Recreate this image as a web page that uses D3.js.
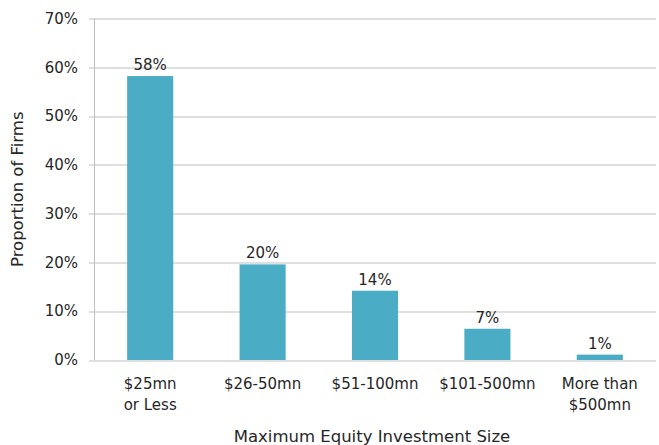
<!DOCTYPE html>
<html lang="en">
<head>
  <meta charset="utf-8">
  <script src="https://d3js.org/d3.v7.min.js"></script>
  <style>
    body { margin: 0; background: #fff; font-family: "DejaVu Sans", sans-serif; }
    .grid line { stroke: #bfbfbf; stroke-width: 1; }
    text { fill: #262626; }
  </style>
</head>
<body>
  <svg id="chart" width="659" height="445"></svg>
  <script>
    var categories = [["$25mn", "or Less"], ["$26-50mn"], ["$51-100mn"], ["$101-500mn"], ["More than", "$500mn"]];
    var values = [58.2, 19.6, 14.2, 6.4, 1.1];
    var valueLabels = ["58%", "20%", "14%", "7%", "1%"];
    var yTicks = [0, 10, 20, 30, 40, 50, 60, 70];

    var svg = d3.select("#chart");
    var margin = { left: 94, right: 3, top: 18.5, bottom: 85 };
    var width = 659 - margin.left - margin.right,
        height = 445 - margin.top - margin.bottom;

    var g = svg.append("g").attr("transform", "translate(" + margin.left + "," + margin.top + ")");

    var x = d3.scaleBand().domain(d3.range(categories.length)).range([0, width]).paddingInner(0.59).paddingOuter(0.295);
    var y = d3.scaleLinear().domain([0, 70]).range([height, 0]);

    // gridlines
    g.append("g").attr("class", "grid")
      .selectAll("line").data(yTicks).enter().append("line")
        .attr("x1", -5).attr("x2", width)
        .attr("y1", function(d) { return Math.round(y(d)) + 0.5; })
        .attr("y2", function(d) { return Math.round(y(d)) + 0.5; });

    g.append("line").attr("x1", 0.5).attr("x2", 0.5).attr("y1", 0).attr("y2", height)
      .attr("stroke", "#bfbfbf");

    g.selectAll(".ytick").data(yTicks).enter().append("text")
      .attr("x", -16).attr("y", function(d) { return y(d); })
      .attr("dy", "0.35em").attr("text-anchor", "end")
      .style("font-size", "15px")
      .text(function(d) { return d + "%"; });

    g.selectAll(".bar").data(values).enter().append("rect")
      .attr("x", function(d, i) { return x(i); })
      .attr("width", x.bandwidth())
      .attr("y", function(d) { return y(d); })
      .attr("height", function(d) { return height - y(d); })
      .attr("fill", "#4bacc6");

    g.selectAll(".vlabel").data(values).enter().append("text")
      .attr("x", function(d, i) { return x(i) + x.bandwidth() / 2; })
      .attr("y", function(d) { return y(d) - 6; })
      .attr("text-anchor", "middle")
      .style("font-size", "15px")
      .text(function(d, i) { return valueLabels[i]; });

    var cl = g.selectAll(".cat").data(categories).enter().append("text")
      .attr("text-anchor", "middle")
      .style("font-size", "15px")
      .attr("transform", function(d, i) { return "translate(" + (x(i) + x.bandwidth() / 2) + "," + (height + 29) + ")"; });
    cl.selectAll("tspan").data(function(d) { return d; }).enter().append("tspan")
      .attr("x", 0).attr("dy", function(d, j) { return j === 0 ? 0 : 21; })
      .text(function(d) { return d; });

    svg.append("text").attr("x", margin.left + width / 2 - 3).attr("y", 442)
      .attr("text-anchor", "middle").style("font-size", "16.5px")
      .text("Maximum Equity Investment Size");

    svg.append("text").attr("transform", "translate(23," + (margin.top + height / 2) + ") rotate(-90)")
      .attr("text-anchor", "middle").style("font-size", "16.5px")
      .text("Proportion of Firms");
  </script>
</body>
</html>
